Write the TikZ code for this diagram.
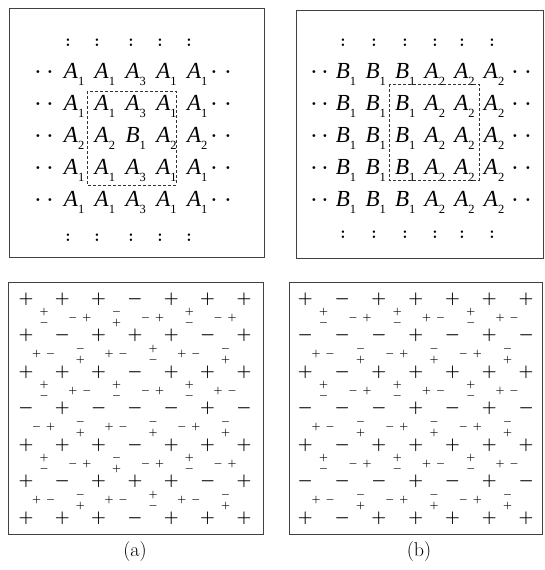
\RequirePackage{fix-cm}
\documentclass[tikz,border=0pt]{standalone}
\usepackage{fontspec}
\newfontfamily\tms{Liberation Serif}
\begin{document}
\begin{tikzpicture}[x=1pt,y=-1pt]
\tikzset{
  frame/.style={draw=black!75, line width=0.9pt},
  dbox/.style={draw=black!80, line width=0.6pt, dash pattern=on 3pt off 2pt},
  lett/.style={anchor=base west, inner sep=0pt, font=\tms\fontsize{23}{23}\selectfont},
  dotn/.style={inner sep=0pt, font=\bfseries\fontsize{20}{20}\selectfont},
  colonn/.style={inner sep=0pt, font=\bfseries\fontsize{17}{17}\selectfont},
  bigsign/.style={inner sep=0pt, font=\fontsize{17}{17}\selectfont\boldmath},
  smallsign/.style={inner sep=0pt, font=\fontsize{10}{10}\selectfont\boldmath},
  sublabel/.style={inner sep=0pt, font=\fontsize{20}{20}\selectfont}
}
\newcommand{\sitelab}[2]{\textit{#1}\raisebox{-7.5pt}{\fontsize{12.5}{12.5}\selectfont #2}}
\useasboundingbox (0,0) rectangle (544,570);
\fill[white] (0,0) rectangle (544,570);
% frames
\draw[frame] (9,8) rectangle (264,257);
\draw[frame] (296,10) rectangle (543,258);
\draw[frame] (8,282) rectangle (263,534);
\draw[frame] (289,282) rectangle (542,534);
% ---------- top left ----------
\foreach \row [count=\j from 0] in {{A/1,A/1,A/3,A/1,A/1},{A/1,A/1,A/3,A/1,A/1},{A/2,A/2,B/1,A/2,A/2},{A/1,A/1,A/3,A/1,A/1},{A/1,A/1,A/3,A/1,A/1}}{
  \foreach \L/\nn [count=\i from 0] in \row {
    \node[lett] (ta-\j-\i) at ({70+30.8*\i-6.3},{78+32*\j}) {\sitelab{\L}{\nn}};
  }
  \node[dotn] (tal1-\j) at (38,{71.7+32*\j}) {.};
  \node[dotn] (tal2-\j) at (50,{71.7+32*\j}) {.};
  \node[dotn] (tar1-\j) at (214,{71.7+32*\j}) {.};
  \node[dotn] (tar2-\j) at (228,{71.7+32*\j}) {.};
}
\foreach \x [count=\i] in {68,97,131,160,189}{
  \node[colonn] (tac-\i) at (\x,43) {:};
  \node[colonn] (tad-\i) at (\x,238) {:};
}
\draw[dbox] (87,91) rectangle (176,185);
% ---------- top right ----------
\foreach \j in {0,...,4}{
  \foreach \L/\nn [count=\i from 0] in {B/1,B/1,B/1,A/2,A/2,A/2} {
    \node[lett] (tb-\j-\i) at ({342+29.6*\i-6.3},{78+32*\j}) {\sitelab{\L}{\nn}};
  }
  \node[dotn] (tbl1-\j) at (314,{71.7+32*\j}) {.};
  \node[dotn] (tbl2-\j) at (325,{71.7+32*\j}) {.};
  \node[dotn] (tbr1-\j) at (515,{71.7+32*\j}) {.};
  \node[dotn] (tbr2-\j) at (528,{71.7+32*\j}) {.};
}
\foreach \x [count=\i] in {343,374,405,435,462,492}{
  \node[colonn] (tbc-\i) at (\x,43) {:};
  \node[colonn] (tbd-\i) at (\x,235) {:};
}
\draw[dbox] (389,84) rectangle (479,180);
% ---------- bottom left (a) ----------
\foreach \row [count=\j from 0] in {{+,+,+,-,+,+,+},{+,-,+,+,+,-,+},{+,+,+,-,+,+,+},{-,+,-,-,-,+,-},{+,+,+,-,+,+,+},{+,-,+,+,+,-,+},{+,+,+,-,+,+,+}}{
  \foreach \s [count=\i from 0] in \row {
    \node[bigsign] (ba-\j-\i) at ({26+36.33*\i},{299+36.5*\j}) {$\s$};
  }
}
\foreach \row [count=\j from 0] in {
  {v/+/-,h/-/+,v/-/+,h/-/+,v/+/-,h/-/+},
  {h/+/-,v/-/+,h/+/-,v/+/-,h/+/-,v/-/+},
  {v/+/-,h/+/-,v/+/-,h/-/+,v/+/-,h/+/-},
  {h/-/+,v/-/+,h/+/-,v/-/+,h/-/+,v/-/+},
  {v/+/-,h/-/+,v/-/+,h/-/+,v/+/-,h/-/+},
  {h/+/-,v/-/+,h/+/-,v/+/-,h/+/-,v/-/+}}{
  \foreach \t/\p/\q [count=\i from 0] in \row {
    \pgfmathsetmacro{\cx}{44+36.33*\i}
    \pgfmathsetmacro{\cy}{317.5+36.5*\j}
    \if\t v
      \node[smallsign] (sa-\j-\i-1) at (\cx,\cy-5.5) {$\p$};
      \node[smallsign] (sa-\j-\i-2) at (\cx,\cy+5.5) {$\q$};
    \else
      \node[smallsign] (sa-\j-\i-1) at (\cx-7.5,\cy) {$\p$};
      \node[smallsign] (sa-\j-\i-2) at (\cx+6.5,\cy) {$\q$};
    \fi
  }
}
% ---------- bottom right (b) ----------
\foreach \row [count=\j from 0] in {{+,-,+,+,+,+,+},{-,-,-,+,-,+,-},{+,-,+,+,+,+,+},{-,-,-,+,-,+,-},{+,-,+,+,+,+,+},{-,-,-,+,-,+,-},{+,-,+,+,+,+,+}}{
  \foreach \s [count=\i from 0] in \row {
    \node[bigsign] (bb-\j-\i) at ({305.3+36.8*\i},{299+36.5*\j}) {$\s$};
  }
}
\foreach \row [count=\j from 0] in {
  {v/+/-,h/-/+,v/+/-,h/+/-,v/+/-,h/+/-},
  {h/+/-,v/-/+,h/-/+,v/-/+,h/-/+,v/-/+},
  {v/+/-,h/-/+,v/+/-,h/+/-,v/+/-,h/+/-},
  {h/+/-,v/-/+,h/-/+,v/-/+,h/-/+,v/-/+},
  {v/+/-,h/-/+,v/+/-,h/+/-,v/+/-,h/+/-},
  {h/+/-,v/-/+,h/-/+,v/-/+,h/-/+,v/-/+}}{
  \foreach \t/\p/\q [count=\i from 0] in \row {
    \pgfmathsetmacro{\cx}{323.7+36.8*\i}
    \pgfmathsetmacro{\cy}{317.5+36.5*\j}
    \if\t v
      \node[smallsign] (sb-\j-\i-1) at (\cx,\cy-5.5) {$\p$};
      \node[smallsign] (sb-\j-\i-2) at (\cx,\cy+5.5) {$\q$};
    \else
      \node[smallsign] (sb-\j-\i-1) at (\cx-7.5,\cy) {$\p$};
      \node[smallsign] (sb-\j-\i-2) at (\cx+6.5,\cy) {$\q$};
    \fi
  }
}
% labels
\node[sublabel] (laba) at (135,552) {(a)};
\node[sublabel] (labb) at (419,552) {(b)};
\end{tikzpicture}
\end{document}
